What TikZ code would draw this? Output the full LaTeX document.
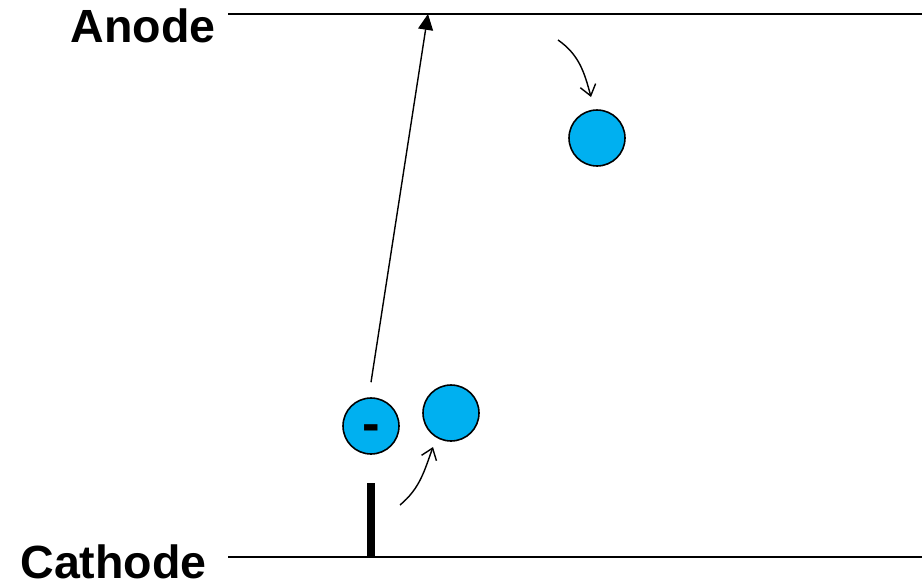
\documentclass[tikz,border=0pt]{standalone}
\usepackage{fontspec}
\setmainfont{Liberation Sans}
\usetikzlibrary{positioning, arrows.meta}
\definecolor{particleBlue}{HTML}{00B0F0}

\begin{document}
\begin{tikzpicture}[x=0.02cm, y=0.02cm,
    particle/.style={circle, draw=black, line width=0.9pt, fill=particleBlue,
      minimum size=1.12cm, inner sep=0pt, font=\bfseries\fontsize{30}{30}\selectfont},
    electrode/.style={line width=1.1pt},
    label/.style={font=\bfseries\fontsize{26.5}{30}\selectfont, inner sep=0pt}]
    \useasboundingbox (0,0) rectangle (922,586);

    \coordinate (anodeL) at (228,572);
    \coordinate (anodeR) at (922,572);
    \coordinate (cathodeL) at (228,29);
    \coordinate (cathodeR) at (922,29);
    \draw[electrode] (anodeL) -- (anodeR);
    \draw[electrode] (cathodeL) -- (cathodeR);
    \node[label, anchor=base east] (anode) at (216,543) {Anode};
    \node[label, anchor=base east] (cathode) at (207,8) {Cathode};

    \node[fill=black, minimum width=0.16cm, minimum height=1.48cm, inner sep=0pt] (spike) at (371,66) {};

    \node[particle] (ion) at (371,160) {\smash{\raisebox{-8.8pt}{-}}};
    \node[particle] (atomLow) at (451,173) {};
    \node[particle] (atomHigh) at (597,448) {};

    \coordinate (hit) at (428,572);
    \draw[line width=0.8pt, -{Triangle[length=9pt, width=8.5pt]}]
      ([yshift=0.3cm]ion.north) -- (hit);

    \coordinate (kickStart) at (400,81);
    \coordinate (kickEnd) at (433,139);
    \draw[line width=0.8pt, -{Straight Barb[length=6pt, width=9pt]}]
      (kickStart) to[out=40, in=-110] (kickEnd);

    \coordinate (dropStart) at (558,546);
    \coordinate (dropEnd) at (591,489);
    \draw[line width=0.8pt, -{Straight Barb[length=6pt, width=9pt]}]
      (dropStart) to[out=-35, in=105] (dropEnd);
  \end{tikzpicture}
\end{document}
